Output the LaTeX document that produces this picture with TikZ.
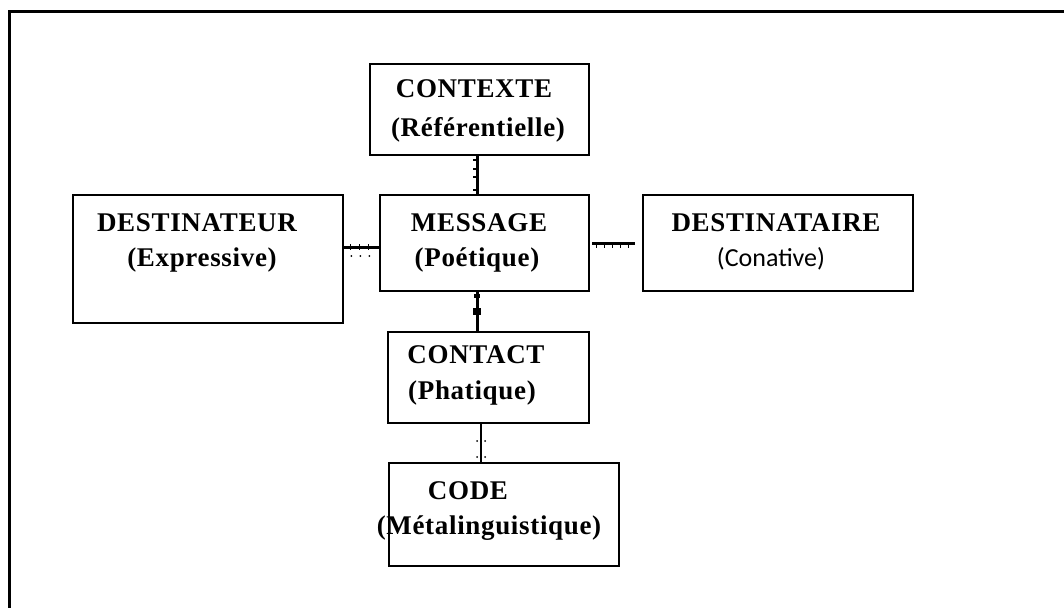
\documentclass[tikz,border=0pt]{standalone}
\usepackage{fontspec}
\setmainfont{Liberation Serif}[LetterSpace=2.5]
\newfontfamily\calib{Carlito}
\usetikzlibrary{decorations.markings}
\begin{document}
\begin{tikzpicture}[x=1pt,y=-1pt,
  box/.style={draw, line width=1.7pt, inner sep=0pt, outer sep=0pt},
  lbl/.style={anchor=base, inner sep=0pt, font=\fontsize{27}{32}\selectfont\bfseries},
  sublbl/.style={anchor=base, inner sep=0pt, font=\fontsize{26}{30}\selectfont\calib},
  link/.style={line width=3pt},
  ticksdown/.style={postaction={decorate}, decoration={markings,
     mark=between positions 0.1 and 0.95 step 8pt with {\draw[line width=1.5pt] (0,0) -- (0,-5pt);}}},
  tickslr/.style={postaction={decorate}, decoration={markings,
     mark=between positions 0.2 and 0.9 step 9pt with {\draw[line width=1.4pt] (0,3pt) -- (0,-3pt); \fill (1pt,-9pt) circle (1pt);}}},
  dotsides/.style={postaction={decorate}, decoration={markings,
     mark=at position 0.45 with {\fill (0,4pt) circle (1pt); \fill (0,-4pt) circle (1pt);},
     mark=at position 0.85 with {\fill (0,4pt) circle (1pt); \fill (0,-4pt) circle (1pt);}}},
  blob/.style={postaction={decorate}, decoration={markings,
     mark=at position 0.12 with {\fill (-2pt,-3pt) rectangle (2pt,3pt);},
     mark=at position 0.5 with {\fill (-3.5pt,-4pt) rectangle (3.5pt,4pt);}}}
]
\useasboundingbox (0,0) rectangle (1064,607);
\draw[line width=3pt] (9,620) -- (9,12) -- (1080,12);

% boxes
\node[box, minimum width=219pt, minimum height=91pt]  (ctx)  at (479.5,109.5) {};
\node[box, minimum width=209pt, minimum height=96pt]  (msg)  at (484.5,243) {};
\node[box, minimum width=270pt, minimum height=128pt] (dst)  at (208,259) {};
\node[box, minimum width=270pt, minimum height=96pt]  (dre)  at (778,243) {};
\node[box, minimum width=201pt, minimum height=91pt]  (cnt)  at (488.5,377.5) {};
\node[box, minimum width=230pt, minimum height=103pt] (cod)  at (504,514.5) {};

% texts
\node[lbl] (ctx1) at (474,98) {CONTEXTE};
\node[lbl] (ctx2) at (478,136) {(Référentielle)};
\node[lbl] (msg1) at (479,231) {MESSAGE};
\node[lbl] (msg2) at (477,266) {(Poétique)};
\node[lbl] (dst1) at (197,231) {DESTINATEUR};
\node[lbl] (dst2) at (202,266) {(Expressive)};
\node[lbl] (dre1) at (776,231) {DESTINATAIRE};
\node[sublbl] (dre2) at (771,266) {(Conative)};
\node[lbl] (cnt1) at (476,363) {CONTACT};
\node[lbl] (cnt2) at (472,399) {(Phatique)};
\node[lbl] (cod1) at (468,499) {CODE};
\node[lbl] (cod2) at (489,534) {(Métalinguistique)};

% connectors
\draw[link, postaction={decorate}, decoration={markings,
   mark=at position 0.12 with {\draw[line width=1.5pt] (0,0) -- (0,-4.5pt);},
   mark=at position 0.35 with {\draw[line width=1.5pt] (0,0) -- (0,-4.5pt);},
   mark=at position 0.55 with {\draw[line width=1.5pt] (0,0) -- (0,-4.5pt);},
   mark=at position 0.88 with {\draw[line width=1.5pt] (0,0) -- (0,-4.5pt);}}]
  ([xshift=-2.5pt]ctx.south) -- ([xshift=-7.5pt]msg.north);
\draw[link, tickslr] ([yshift=12pt]dst.east) -- ([yshift=-4pt]msg.west);
\draw[link, ticksdown] ([xshift=3pt]msg.east) -- ([xshift=-8pt]dre.west);
\draw[link, blob] ([xshift=-7.5pt]msg.south) -- ([xshift=-11.5pt]cnt.north);
\draw[line width=2pt, dotsides] ([xshift=-7.5pt]cnt.south) -- ([xshift=-23pt]cod.north);
\end{tikzpicture}
\end{document}
